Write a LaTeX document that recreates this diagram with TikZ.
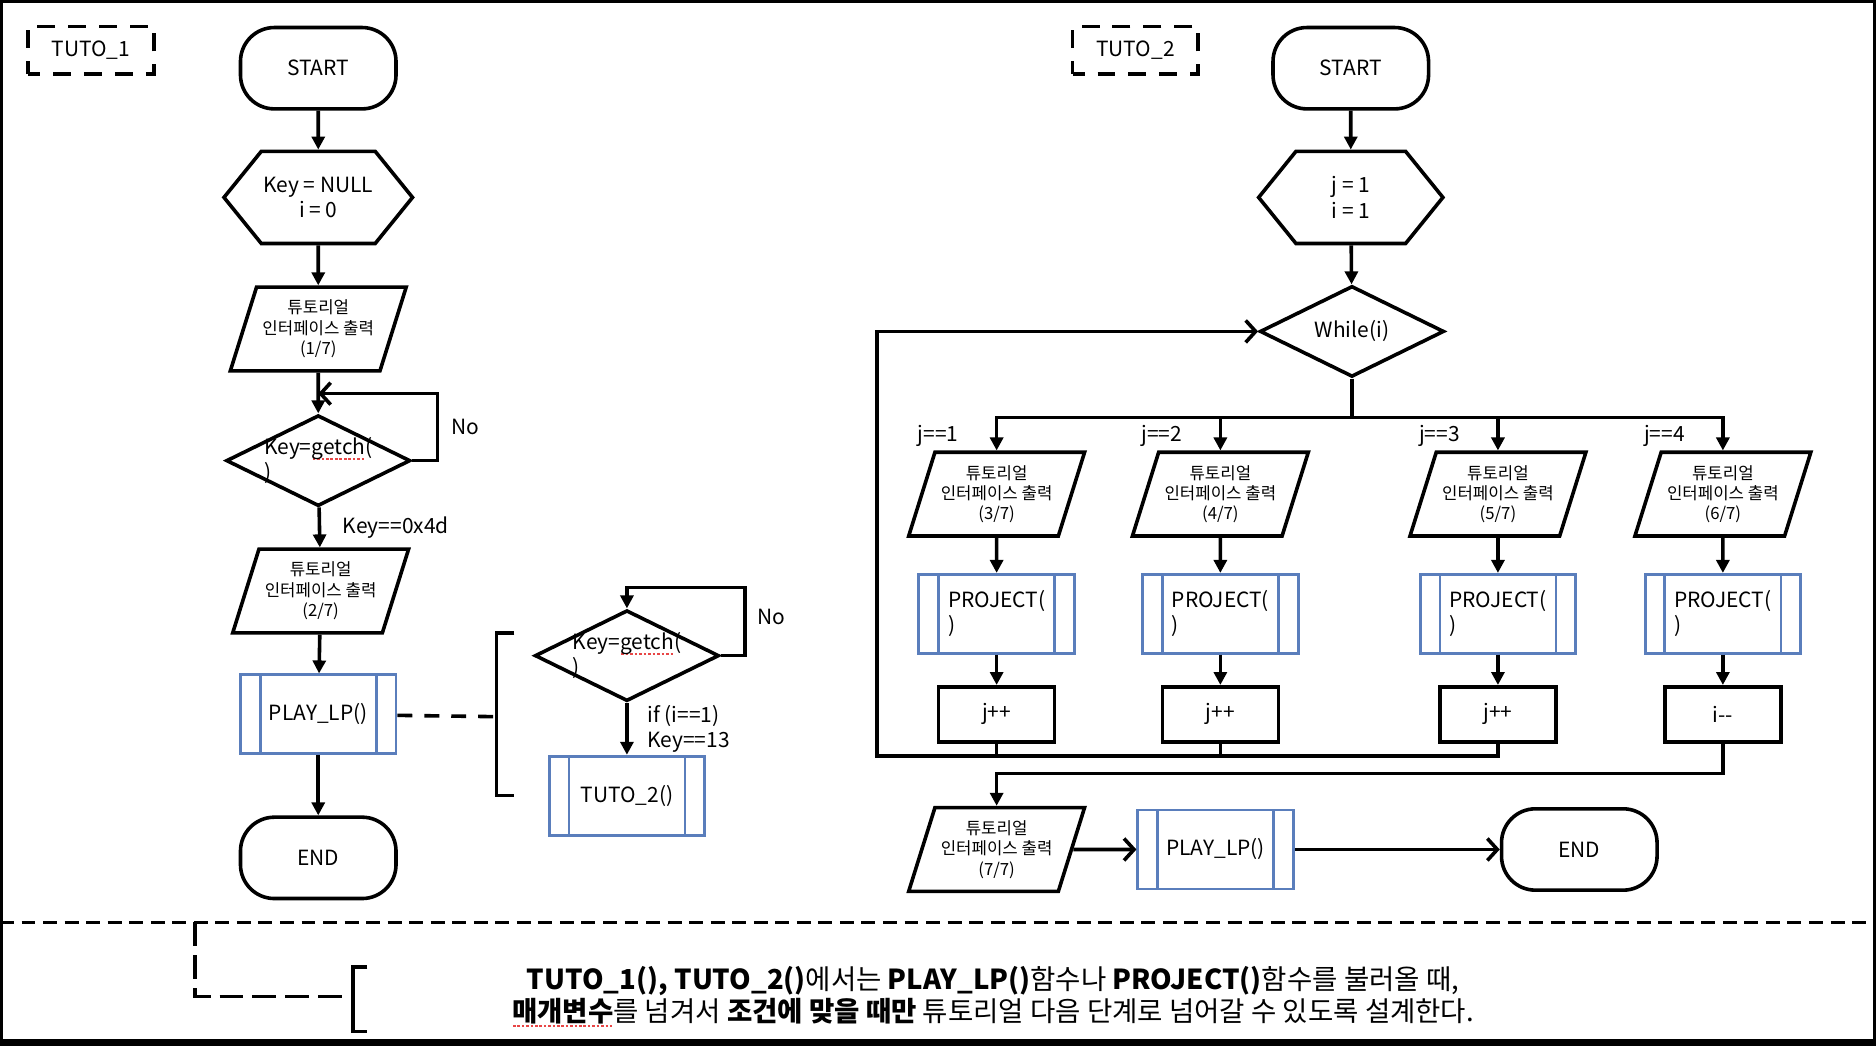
\documentclass[tikz,border=0pt]{standalone}
\usepackage{fontspec}
\setmainfont{Noto Sans CJK KR}
\usepackage{tikz}
\usetikzlibrary{arrows.meta, shapes.geometric, shapes.symbols, calc}
\definecolor{procblue}{RGB}{90,126,188}
\definecolor{spellred}{RGB}{232,70,70}
\newcommand{\spell}[1]{\setbox0\hbox{#1}\rlap{\raisebox{-2.8pt}{\color{spellred}\hbox to \wd0{\xleaders\hbox to 2.2pt{\hss\rule{1.3pt}{0.9pt}\hss}\hfill}}}\box0}

\begin{document}
\begin{tikzpicture}[x=0.6pt, y=-0.6pt, font=\fontsize{10.5}{12.6}\selectfont,
    thk/.style={line width=1.8pt},
    arr/.style={thk, -{Triangle[length=6.5pt,width=6.5pt]}},
    barb/.style={thk, -{Straight Barb[length=5pt,width=11pt]}},
    term/.style={draw, thk, rectangle, rounded corners=17pt, minimum width=78pt, minimum height=40.8pt},
    hexa/.style={draw, thk, signal, signal to=east and west, signal pointer angle=102, minimum width=92.4pt, minimum height=46.2pt, align=center, inner sep=1pt},
    para/.style={draw, thk, trapezium, trapezium left angle=67, trapezium right angle=113, trapezium stretches body, minimum width=88.2pt, minimum height=42pt, inner xsep=-6pt, inner ysep=1pt, align=center, font=\fontsize{8.4}{10.2}\selectfont},
    dia/.style={draw, thk, diamond, aspect=2, minimum width=92.4pt, minimum height=45.6pt, inner sep=-3pt, align=left},
    proc/.style={draw=procblue, line width=1.4pt, rectangle, minimum width=78pt, minimum height=39.6pt, align=left,
        path picture={\draw[procblue, line width=1.4pt] ([xshift=9.9pt]path picture bounding box.north west) -- ([xshift=9.9pt]path picture bounding box.south west)
            ([xshift=-9.9pt]path picture bounding box.north east) -- ([xshift=-9.9pt]path picture bounding box.south east);}},
    opbox/.style={draw, thk, rectangle, minimum width=58.2pt, minimum height=27.6pt},
    tag/.style={draw, thk, dash pattern=on 9pt off 6.5pt, dash phase=3pt, minimum width=63pt, minimum height=24pt}]
    \useasboundingbox (0,0) rectangle (1568,874);
    \draw[line width=2pt] (1,1) rectangle (1567,873);
    \draw[line width=4pt] (0,872) -- (1568,872);

    % TUTO_1
    \node[tag] (tag1) at (76,42) {TUTO\_1};
    \node[term] (s1) at (266,57) {START};
    \node[hexa] (h1) at (266,165) {Key = NULL\\i = 0};
    \node[para] (p1) at (266,275) {튜토리얼\\인터페이스 출력\\(1/7)};
    \node[dia] (d1) at (266,385) {Key=\spell{getch}(\\)};
    \node[para] (p2) at (268,494) {튜토리얼\\인터페이스 출력\\(2/7)};
    \node[proc] (pl1) at (266,597) {PLAY\_LP()};
    \node[term] (e1) at (266,717) {END};
    \coordinate (m1) at (266,329);
    \draw[arr] (s1) -- (h1);
    \draw[arr] (h1) -- (p1);
    \draw[arr] (p1) -- (d1);
    \draw[barb] (d1.east) -- ++(21,0) |- (m1);
    \node (no1) at (389,357) {No};
    \draw[arr] (d1) -- node[anchor=west, xshift=7.5pt] (k1) {Key==0x4d} (p2);
    \draw[arr] (p2) -- (pl1);
    \draw[arr] (pl1) -- (e1);

    \coordinate (brk1) at (415,599);
    \draw[thk, dash pattern=on 7.5pt off 6pt] (pl1) -- (brk1);
    \draw[thk] (430,529) -- (415,529) -- (415,665) -- (430,665);
    \node[dia] (d2) at (524,548) {Key=\spell{getch}(\\)};
    \node[proc] (t2c) at (524,665) {TUTO\_2()};
    \draw[arr] (d2.east) -- ++(20,0) -- ++(0,-57) -| (d2.north);
    \node (no2) at (645,516) {No};
    \draw[arr] (d2) -- node[anchor=west, align=left, xshift=6pt] (k2) {if (i==1)\\Key==13} (t2c);

    % TUTO_2
    \node[tag] (tag2) at (949,42) {TUTO\_2};
    \node[term] (s2) at (1129,57) {START};
    \node[hexa] (h2) at (1129,165) {j = 1\\i = 1};
    \node[dia, align=center] (w) at (1130,277) {While(i)};
    \draw[arr] (s2) -- (h2);
    \draw[arr] (h2) -- (w);

    \foreach \n/\x/\k/\op in {1/833/3/j++, 2/1020/4/j++, 3/1252/5/j++, 4/1440/6/{i{-}{-}}} {
        \node[para] (q\n) at (\x,413) {튜토리얼\\인터페이스 출력\\(\k/7)};
        \node[proc] (pr\n) at (\x,513) {PROJECT(\\)};
        \node[opbox] (op\n) at (\x,597) {\op};
        \node[anchor=east] (jl\n) at (\x-26,364) {j==\n};
        \draw[arr] (q\n) -- (pr\n);
        \draw[arr] (pr\n) -- (op\n);
    }
    \coordinate (bus) at (1130,349);
    \draw[thk] (w) -- (bus);
    \draw[arr] (bus) -| (q1.north);
    \draw[arr] (bus) -| (q4.north);
    \draw[arr] (q2.north |- bus) -- (q2.north);
    \draw[arr] (q3.north |- bus) -- (q3.north);

    \coordinate (ret) at (733,632);
    \draw[thk] (op1.south) -- (op1.south |- ret);
    \draw[thk] (op2.south) -- (op2.south |- ret);
    \draw[barb] (op3.south) |- (ret) |- (w.west);

    \node[para] (q7) at (833,710) {튜토리얼\\인터페이스 출력\\(7/7)};
    \node[proc] (pl2) at (1016,710) {PLAY\_LP()};
    \node[term] (e2) at (1320,710) {END};
    \draw[arr] (op4.south) -- ++(0,25) -| (q7.north);
    \draw[barb] (q7) -- (pl2);
    \draw[barb] (pl2) -- (e2);

    % note
    \draw[thk, dash pattern=on 7pt off 3.8pt] (0,771) -- (1568,771);
    \coordinate (sep) at (163,771);
    \coordinate (brk2) at (295,833);
    \draw[thk, dash pattern=on 12pt off 4.5pt] (sep) |- (brk2);
    \draw[thk] (307,808) -- (295,808) -- (295,862) -- (307,862);
    \node[font=\fontsize{13.8}{16.2}\selectfont, align=center] (note) at (830,833)
        {\textbf{TUTO\_1(), TUTO\_2()}에서는 \textbf{PLAY\_LP()}함수나 \textbf{PROJECT()}함수를 불러올 때,\\
         \textbf{\spell{매개변수}}를 넘겨서 \textbf{조건에 맞을 때만} 튜토리얼 다음 단계로 넘어갈 수 있도록 설계한다.};
\end{tikzpicture}
\end{document}
